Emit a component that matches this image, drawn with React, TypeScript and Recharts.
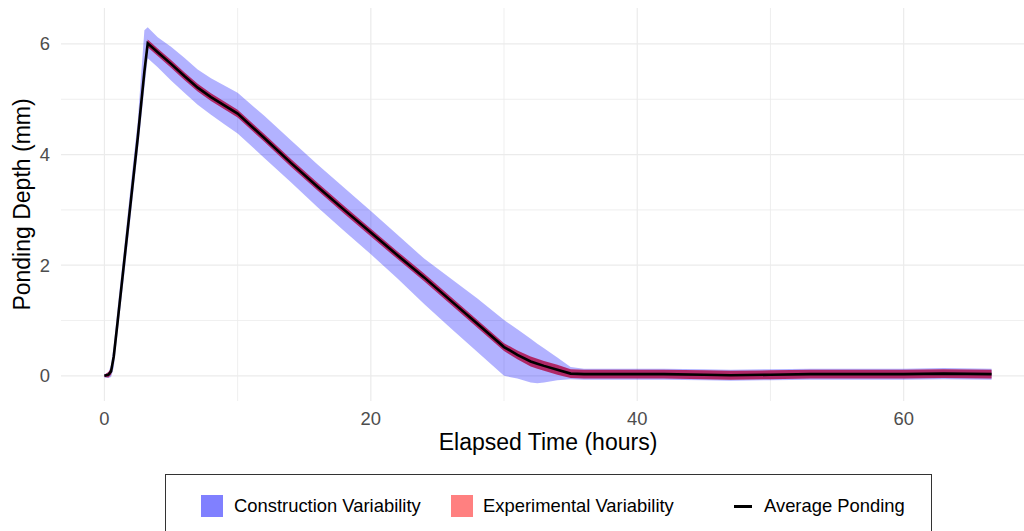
import React from 'react';
import {
  ComposedChart,
  Area,
  Line,
  XAxis,
  YAxis,
  CartesianGrid,
  Legend,
  Label,
} from 'recharts';

// elapsed time (hours)
const hours = [
  0, 0.3, 0.5, 0.7, 1.0, 1.5, 2.0, 2.5, 3.0, 3.25, 4, 5, 6, 7, 8, 9, 10, 12, 14, 16, 18, 20,
  22, 24, 26, 28, 30, 31, 32, 32.5, 33, 34, 35, 36, 38, 40, 42, 45, 47, 50, 53, 56, 60, 63, 66.6,
];

// mean ponding depth (mm)
const avgPonding = [
  0, 0.02, 0.08, 0.35, 1.0, 2.1, 3.2, 4.3, 5.5, 6.01, 5.85, 5.64, 5.42, 5.21, 5.04, 4.89, 4.74,
  4.3, 3.85, 3.42, 3.0, 2.59, 2.18, 1.78, 1.36, 0.94, 0.52, 0.38, 0.26, 0.22, 0.18, 0.11, 0.04,
  0.03, 0.03, 0.03, 0.03, 0.02, 0.01, 0.02, 0.03, 0.03, 0.03, 0.04, 0.03,
];

const constructionLow = [
  -0.03, -0.04, -0.02, 0.15, 0.8, 1.85, 2.95, 4.05, 5.2, 5.74, 5.58, 5.34, 5.12, 4.9, 4.72, 4.55,
  4.38, 3.94, 3.5, 3.05, 2.62, 2.2, 1.76, 1.3, 0.86, 0.43, 0.0, -0.05, -0.12, -0.135, -0.12, -0.08,
  -0.06, -0.07, -0.07, -0.07, -0.07, -0.08, -0.09, -0.08, -0.07, -0.07, -0.07, -0.06, -0.07,
];

const constructionHigh = [
  0.03, 0.06, 0.2, 0.55, 1.25, 2.35, 3.5, 4.6, 6.25, 6.3, 6.12, 5.95, 5.75, 5.54, 5.38, 5.25,
  5.12, 4.7, 4.26, 3.82, 3.4, 2.98, 2.55, 2.12, 1.76, 1.4, 1.01, 0.84, 0.67, 0.58, 0.5, 0.33,
  0.16, 0.13, 0.13, 0.13, 0.13, 0.12, 0.11, 0.12, 0.13, 0.13, 0.13, 0.14, 0.13,
];

const experimentalLow = [
  -0.02, -0.03, 0.02, 0.28, 0.92, 2.02, 3.12, 4.22, 5.42, 5.94, 5.78, 5.57, 5.35, 5.14, 4.97,
  4.82, 4.67, 4.23, 3.78, 3.35, 2.93, 2.52, 2.11, 1.71, 1.29, 0.87, 0.45, 0.3, 0.17, 0.13, 0.09,
  0.02, -0.04, -0.05, -0.05, -0.05, -0.05, -0.06, -0.07, -0.06, -0.05, -0.05, -0.05, -0.04, -0.05,
];

const experimentalHigh = [
  0.02, 0.07, 0.14, 0.42, 1.08, 2.18, 3.28, 4.38, 5.58, 6.08, 5.92, 5.71, 5.49, 5.28, 5.11, 4.96,
  4.81, 4.37, 3.92, 3.49, 3.07, 2.66, 2.25, 1.85, 1.43, 1.01, 0.59, 0.46, 0.35, 0.31, 0.27, 0.2,
  0.12, 0.11, 0.11, 0.11, 0.11, 0.1, 0.09, 0.1, 0.11, 0.11, 0.11, 0.12, 0.11,
];

const xTicks = [0, 20, 40, 60];
const xMinor = [10, 30, 50];
const yTicks = [0, 2, 4, 6];
const yMinor = [1, 3, 5];

const data = hours.map((t, i) => ({
  t,
  avg: avgPonding[i],
  construction: [constructionLow[i], constructionHigh[i]],
  experimental: [experimentalLow[i], experimentalHigh[i]],
}));

const FONT = '"Liberation Sans", Arial, Helvetica, sans-serif';

function LegendBox() {
  const text: React.CSSProperties = {
    position: 'absolute',
    top: 20,
    fontSize: 18.4,
    color: '#000',
    fontFamily: FONT,
    lineHeight: '22px',
    whiteSpace: 'nowrap',
  };
  return (
    <div
      style={{
        position: 'relative',
        width: 767,
        height: 72,
        border: '1.2px solid #333',
        boxSizing: 'border-box',
        background: '#fff',
      }}
    >
      <div style={{ position: 'absolute', left: 35, top: 20, width: 22, height: 22, background: '#8080ff' }} />
      <div style={{ ...text, left: 68 }}>Construction Variability</div>
      <div style={{ position: 'absolute', left: 285, top: 20, width: 22, height: 22, background: '#ff8080' }} />
      <div style={{ ...text, left: 317 }}>Experimental Variability</div>
      <div style={{ position: 'absolute', left: 568, top: 30, width: 18, height: 3, background: '#000' }} />
      <div style={{ ...text, left: 598 }}>Average Ponding</div>
    </div>
  );
}

export default function App() {
  return (
    <div
      style={{
        position: 'absolute',
        left: 0,
        top: 0,
        width: 1024,
        height: 531,
        overflow: 'hidden',
        background: '#fff',
      }}
    >
      <ComposedChart
        width={1035}
        height={531}
        data={data}
        margin={{ top: 8, right: 0, left: 0, bottom: 70 }}
      >
        <CartesianGrid stroke="#ebebeb" strokeWidth={0.8} horizontalValues={yMinor} verticalValues={xMinor} />
        <CartesianGrid stroke="#ebebeb" strokeWidth={1.2} horizontalValues={yTicks} verticalValues={xTicks} />
        <XAxis
          type="number"
          dataKey="t"
          domain={[-3.26, 69.86]}
          ticks={xTicks}
          allowDataOverflow
          axisLine={false}
          tickLine={false}
          tickMargin={5}
          height={60}
          tick={{ fill: '#4d4d4d', fontSize: 18.4, fontFamily: FONT }}
        >
          <Label
            content={(props: any) => {
              const vb = props.viewBox;
              return (
                <text
                  x={vb.x + vb.width / 2}
                  y={450}
                  textAnchor="middle"
                  fill="#000"
                  fontSize={23}
                  fontFamily={FONT}
                >
                  Elapsed Time (hours)
                </text>
              );
            }}
          />
        </XAxis>
        <YAxis
          type="number"
          domain={[-0.455, 6.65]}
          ticks={yTicks}
          allowDataOverflow
          axisLine={false}
          tickLine={false}
          tickMargin={5}
          width={61}
          tick={{ fill: '#4d4d4d', fontSize: 18.4, fontFamily: FONT }}
        >
          <Label
            content={(props: any) => {
              const vb = props.viewBox;
              const cy = vb.y + vb.height / 2;
              return (
                <text
                  x={29.5}
                  y={cy}
                  transform={`rotate(-90 29.5 ${cy})`}
                  textAnchor="middle"
                  fill="#000"
                  fontSize={23}
                  fontFamily={FONT}
                >
                  Ponding Depth (mm)
                </text>
              );
            }}
          />
        </YAxis>
        <Area
          type="linear"
          dataKey="construction"
          name="Construction Variability"
          stroke="none"
          fill="#0000ff"
          fillOpacity={0.3}
          isAnimationActive={false}
        />
        <Area
          type="linear"
          dataKey="experimental"
          name="Experimental Variability"
          stroke="none"
          fill="#b0205f"
          fillOpacity={0.95}
          isAnimationActive={false}
        />
        <Line
          type="linear"
          dataKey="avg"
          name="Average Ponding"
          stroke="#000"
          strokeWidth={2.6}
          dot={false}
          isAnimationActive={false}
        />
        <Legend
          layout="horizontal"
          verticalAlign="middle"
          align="center"
          wrapperStyle={{ left: 165, top: 474, width: 767, height: 72 }}
          content={() => <LegendBox />}
        />
      </ComposedChart>
    </div>
  );
}
